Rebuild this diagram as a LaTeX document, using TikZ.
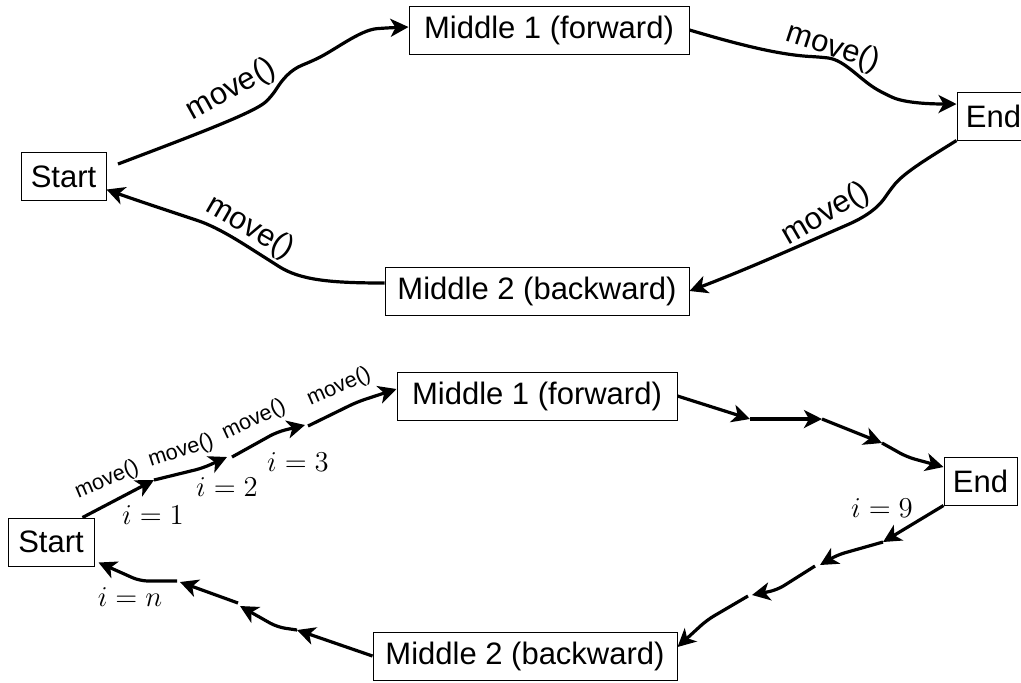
\documentclass[tikz,border=0pt]{standalone}
\usepackage{fontspec}
\setmainfont{Liberation Sans}
\usetikzlibrary{arrows.meta}
\tikzset{box/.style = {draw, line width = 0.5pt, inner sep = 0, minimum height = 24pt,
                       font = \fontsize{15.5}{18}\selectfont}}
\tikzset{flow/.style = {line width = 1.6pt, rounded corners = 4pt,
                        -{Stealth[length = 9pt, width = 9pt, inset = 2.5pt]}}}
\tikzset{call/.style = {inner sep = 0, font = \fontsize{15.5}{18}\selectfont}}
\tikzset{smallcall/.style = {inner sep = 0, font = \fontsize{10.8}{13}\selectfont}}
\tikzset{idx/.style = {inner sep = 0, font = \fontsize{15}{17}\selectfont}}

\begin{document}
\begin{tikzpicture}[x = 0.5pt, y = -0.5pt]
    \useasboundingbox (0, 0) rectangle (1021, 682);
    \clip (0, 0) rectangle (1021, 682);

    % upper loop: one move() per leg
    \node [box, minimum width = 42.5pt] (s1) at (63.5, 176.5) {Start};
    \node [box, minimum width = 140pt] (m1a) at (549, 30) {Middle 1 (forward)};
    \node [box, minimum width = 36.5pt] (e1) at (993.5, 116) {End};
    \node [box, minimum width = 152pt] (m2a) at (537, 291) {Middle 2 (backward)};
    \coordinate (s1out) at (118, 164);

    \draw [flow] (s1out) .. controls (200, 133) and (255, 112) .. (272, 96)
                         .. controls (282, 80) and (290, 70) .. (310, 62)
                         .. controls (335, 50) and (360, 30) .. (385, 28)
                         -- ([yshift = 1.5pt] m1a.west);
    \draw [flow] (m1a.east) .. controls (740, 45) and (780, 55) .. (820, 57)
                            .. controls (845, 60) and (860, 80) .. (885, 94)
                            .. controls (905, 103) and (930, 104) .. ([yshift = 6pt] e1.west);
    \draw [flow] (e1.south west) .. controls (930, 157) and (905, 172) .. (890, 190)
                                 .. controls (880, 205) and (870, 215) .. (840, 228)
                                 .. controls (790, 250) and (740, 272) .. (m2a.east);
    \draw [flow] ([yshift = 4pt] m2a.west) .. controls (330, 283) and (300, 280) .. (272, 262)
                                           .. controls (245, 245) and (220, 228) .. (190, 218)
                                           .. controls (160, 208) and (130, 198) .. ([yshift = -6.5pt] s1.east);

    \node [call, rotate = 29] (c1) at (231, 90) {move()};
    \node [call, rotate = -18] (c2) at (833, 48) {move()};
    \node [call, rotate = 30] (c3) at (826, 214) {move()};
    \node [call, rotate = -30] (c4) at (250, 228) {move()};

    % lower loop: every leg split into single steps
    \node [box, minimum width = 43pt] (s2) at (51, 542) {Start};
    \node [box, minimum width = 140pt] (m1b) at (537, 396) {Middle 1 (forward)};
    \node [box, minimum width = 36.5pt] (e2) at (980.5, 481) {End};
    \node [box, minimum width = 152pt] (m2b) at (525, 656) {Middle 2 (backward)};

    \coordinate (a1) at (154, 480);
    \coordinate (a2) at (227, 457);
    \coordinate (a2s) at (232, 457);
    \coordinate (a3) at (305, 425);
    \coordinate (a3s) at (308, 426);
    \draw [flow] ([xshift = -6pt] s2.north east) -- (a1);
    \draw [flow] (a1) -- (203, 468) -- (a2);
    \draw [flow] (a2s) -- (277, 432) -- (a3);
    \draw [flow] (a3s) -- (357, 402) -- ([yshift = 3.5pt] m1b.west);

    \coordinate (b1) at (750, 419);
    \coordinate (b2) at (822, 419);
    \coordinate (b3) at (882, 443);
    \draw [flow] (m1b.east) -- (b1);
    \draw [flow] (b1) -- (b2);
    \draw [flow] (b2) -- (b3);
    \draw [flow] (b3) -- (907, 457) -- ([yshift = 7pt] e2.west);

    \coordinate (c1) at (883, 542);
    \coordinate (c2) at (820, 565);
    \coordinate (c2s) at (815, 566);
    \coordinate (c3) at (752, 595);
    \coordinate (c3s) at (748, 596);
    \draw [flow] (e2.south west) -- (c1);
    \draw [flow] (c1) -- (837, 555) -- (c2);
    \draw [flow] (c2s) -- (777, 590) -- (c3);
    \draw [flow] (c3s) -- (707, 620) -- ([yshift = 4.5pt] m2b.east);

    \coordinate (d1) at (297, 630);
    \coordinate (d2) at (240, 606);
    \coordinate (d2s) at (238, 603);
    \coordinate (d3) at (180, 582);
    \coordinate (d3s) at (177, 581);
    \draw [flow] (m2b.west) -- (d1);
    \draw [flow] (d1) -- (277, 627) -- (d2);
    \draw [flow] (d2s) -- (d3);
    \draw [flow] (d3s) -- (140, 581) -- ([shift = {(2pt, 2pt)}] s2.south east);

    \node [smallcall, rotate = 23] (k1) at (107, 480) {move()};
    \node [smallcall, rotate = 18] (k2) at (181, 451) {move()};
    \node [smallcall, rotate = 25] (k3) at (254, 420) {move()};
    \node [smallcall, rotate = 24] (k4) at (339, 387) {move()};

    \node [idx] (i1) at (153, 515) {$i = 1$};
    \node [idx] (i2) at (227, 487) {$i = 2$};
    \node [idx] (i3) at (298, 462) {$i = 3$};
    \node [idx] (i9) at (882, 508) {$i = 9$};
    \node [idx] (in) at (130, 597) {$i = n$};
  \end{tikzpicture}
\end{document}
